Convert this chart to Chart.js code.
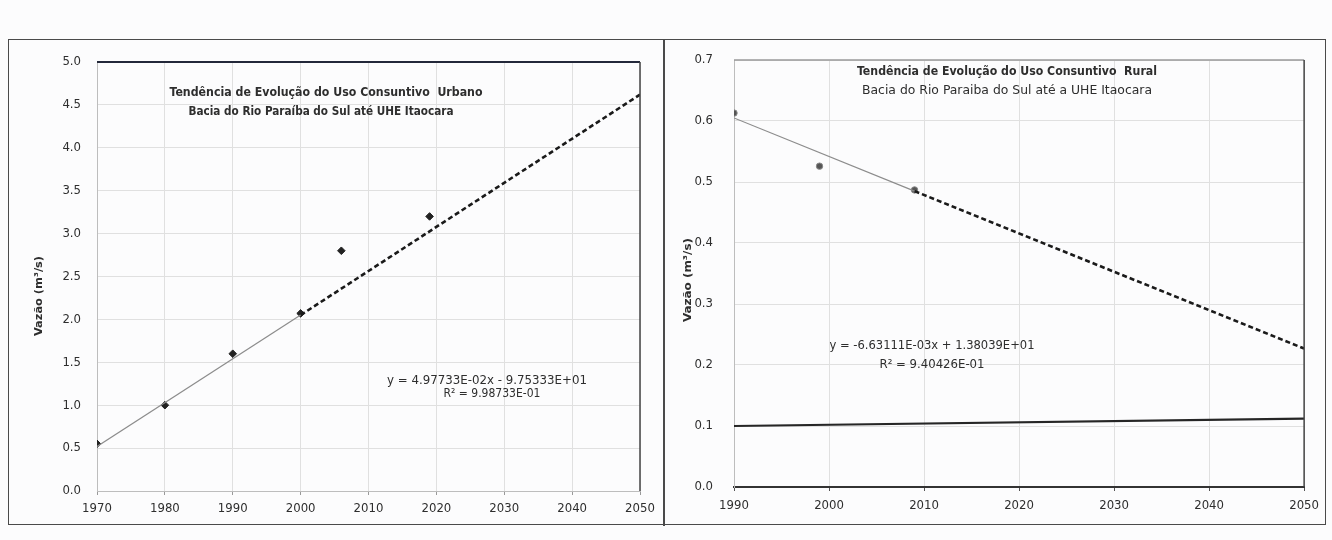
<!DOCTYPE html>
<html>
<head>
<meta charset="utf-8">
<script src="https://cdn.jsdelivr.net/npm/chart.js@4/dist/chart.umd.min.js"></script>
<style>
  html, body { margin: 0; padding: 0; background: #fcfcfd; }
  #page { position: relative; width: 1332px; height: 540px; overflow: hidden; background: #fcfcfd; }
  canvas { position: absolute; }
  #cUrb { left: 8px; top: 40px; }
  #cRur { left: 664px; top: 40px; }
  .frame { position: absolute; left: 8px; top: 39px; width: 1316px; height: 484px; border: 1.5px solid #4a4a4a; pointer-events: none; }
  .divider { position: absolute; left: 663px; top: 39px; width: 1.5px; height: 487px; background: #4a4a4a; }
</style>
</head>
<body>
<div id="page">
  <canvas id="cUrb" width="656" height="484"></canvas>
  <canvas id="cRur" width="662" height="484"></canvas>
  <div class="frame"></div>
  <div class="divider"></div>
</div>
<script>
// ---- Urban consumptive use (left panel) ----
const urbanYears = [1970, 1980, 1990, 2000, 2006, 2019];
const urbanFlow  = [0.55, 1.00, 1.60, 2.07, 2.80, 3.20];
const urbanFitYears  = [1970, 2000];
const urbanFitFlow   = [0.52, 2.05];
const urbanProjYears = [2000, 2050];
const urbanProjFlow  = [2.05, 4.62];
const urbanXTicks = [1970, 1980, 1990, 2000, 2010, 2020, 2030, 2040, 2050];
const urbanYTicks = [0.0, 0.5, 1.0, 1.5, 2.0, 2.5, 3.0, 3.5, 4.0, 4.5, 5.0];
const urbanTitle = ['Tendência de Evolução do Uso Consuntivo  Urbano', 'Bacia do Rio Paraíba do Sul até UHE Itaocara'];
const urbanEquation = ['y = 4.97733E-02x - 9.75333E+01', 'R² = 9.98733E-01'];

// ---- Rural consumptive use (right panel) ----
const ruralYears = [1990, 1999, 2009];
const ruralFlow  = [0.613, 0.526, 0.487];
const ruralFitYears  = [1990, 2009];
const ruralFitFlow   = [0.605, 0.485];
const ruralProjYears = [2009, 2050];
const ruralProjFlow  = [0.485, 0.227];
const ruralLimitYears = [1990, 2050];
const ruralLimitFlow  = [0.100, 0.112];
const ruralXTicks = [1990, 2000, 2010, 2020, 2030, 2040, 2050];
const ruralYTicks = [0.0, 0.1, 0.2, 0.3, 0.4, 0.5, 0.6, 0.7];
const ruralTitle = ['Tendência de Evolução do Uso Consuntivo  Rural', 'Bacia do Rio Paraiba do Sul até a UHE Itaocara'];
const ruralEquation = ['y = -6.63111E-03x + 1.38039E+01', 'R² = 9.40426E-01'];

const yAxisTitle = 'Vazão (m³/s)';

const FAMILY = "'Liberation Sans Narrow', 'DejaVu Sans Condensed', 'Liberation Sans', sans-serif";
const INK = '#2e2e2e';

const pts = (xs, ys) => xs.map((x, i) => ({ x: x, y: ys[i] }));

// Draw a line of text centred on (cx, cy), stretched horizontally to a given width.
function fitText(ctx, text, cx, cy, width, font, color, angle) {
  ctx.save();
  ctx.font = font;
  ctx.fillStyle = color || INK;
  ctx.textAlign = 'center';
  ctx.textBaseline = 'middle';
  const w = ctx.measureText(text).width;
  ctx.translate(cx, cy);
  if (angle) ctx.rotate(angle);
  ctx.scale(width / w, 1);
  ctx.fillText(text, 0, 0);
  ctx.restore();
}

function annotations(cfg) {
  return {
    id: 'annotations',
    afterDraw(chart) {
      const ctx = chart.ctx;
      const a = chart.chartArea;
      // plot frame lines
      ctx.save();
      ctx.lineCap = 'butt';
      ctx.strokeStyle = cfg.topColor; ctx.lineWidth = cfg.topWidth;
      ctx.beginPath(); ctx.moveTo(a.left, a.top); ctx.lineTo(a.right, a.top); ctx.stroke();
      ctx.strokeStyle = '#444'; ctx.lineWidth = 1.5;
      ctx.beginPath(); ctx.moveTo(a.right, a.top); ctx.lineTo(a.right, a.bottom); ctx.stroke();
      ctx.restore();
      // titles, equation and axis title
      cfg.texts.forEach(t => fitText(ctx, t.s, t.x, t.y, t.w, t.font, t.color, t.angle));
    }
  };
}

function axisOpts(min, max, ticks, yAxis, extra) {
  return Object.assign({
    type: 'linear',
    min: min, max: max,
    afterBuildTicks: s => { s.ticks = ticks.map(v => ({ value: v })); },
    grid: { color: '#e0e0e0', lineWidth: 1, drawTicks: !yAxis, tickLength: 4, tickColor: '#999' },
    border: { display: true, color: '#bdbdbd', width: 1 },
    ticks: {
      color: INK,
      font: { family: FAMILY, size: 13 },
      autoSkip: false,
      maxRotation: 0,
      callback: v => yAxis ? Number(v).toFixed(1) : String(v)
    }
  }, extra || {});
}

// fixed y-axis width; the label gap must not push the plot area down
const fixY = w => s => { s.width = w; s.paddingTop = 0; s.paddingBottom = 0; };

function makeChart(id, o) {
  return new Chart(document.getElementById(id), {
    type: 'scatter',
    data: {
      datasets: o.datasets
    },
    options: {
      responsive: false,
      animation: false,
      devicePixelRatio: 1,
      layout: { padding: o.padding },
      plugins: { legend: { display: false }, tooltip: { enabled: false }, title: { display: false } },
      scales: { x: o.x, y: o.y }
    },
    plugins: [annotations(o.ann)]
  });
}

const boldT = "bold 12px " + FAMILY;
const regT = "12px " + FAMILY;

// Left chart: canvas at page (8,40); plot area page x 97..640, y 62..491
makeChart('cUrb', {
  padding: { left: 0, top: 22, right: 24, bottom: 0 },
  datasets: [
    { type: 'line', data: pts(urbanFitYears, urbanFitFlow), borderColor: '#8c8c8c', borderWidth: 1.2, pointRadius: 0, fill: false },
    { type: 'line', data: pts(urbanProjYears, urbanProjFlow), borderColor: '#1a1a1a', borderWidth: 2.6, borderDash: [5, 3], pointRadius: 0, fill: false },
    { data: pts(urbanYears, urbanFlow), pointStyle: 'rectRot', pointRadius: 3.8, backgroundColor: '#222', borderColor: '#222', borderWidth: 1 }
  ],
  x: axisOpts(1970, 2050, urbanXTicks, false, {
    afterFit: s => { s.height = 33; },
    ticks: { color: INK, font: { family: FAMILY, size: 13 }, autoSkip: false, maxRotation: 0, padding: 6, callback: v => String(v) }
  }),
  y: axisOpts(0, 5, urbanYTicks, true, {
    afterFit: fixY(89),
    ticks: { color: INK, font: { family: FAMILY, size: 13 }, padding: 16, callback: v => Number(v).toFixed(1) }
  }),
  ann: {
    topColor: '#23283a', topWidth: 2,
    texts: [
      { s: urbanTitle[0], x: 318, y: 53, w: 313, font: boldT },
      { s: urbanTitle[1], x: 313, y: 72, w: 265, font: boldT },
      { s: urbanEquation[0], x: 479, y: 341, w: 200, font: regT },
      { s: urbanEquation[1], x: 484, y: 354, w: 97, font: regT },
      { s: yAxisTitle, x: 31, y: 256, w: 80, font: "bold 11px " + FAMILY, angle: -Math.PI / 2 }
    ]
  }
});

// Right chart: canvas at page (664,40); plot area page x 734..1308, y 60..487
makeChart('cRur', {
  padding: { left: 0, top: 20, right: 18, bottom: 0 },
  datasets: [
    { type: 'line', data: pts(ruralLimitYears, ruralLimitFlow), borderColor: '#262626', borderWidth: 2.2, pointRadius: 0, fill: false },
    { type: 'line', data: pts(ruralFitYears, ruralFitFlow), borderColor: '#8c8c8c', borderWidth: 1.2, pointRadius: 0, fill: false },
    { type: 'line', data: pts(ruralProjYears, ruralProjFlow), borderColor: '#1a1a1a', borderWidth: 2.6, borderDash: [5, 3], pointRadius: 0, fill: false },
    { data: pts(ruralYears, ruralFlow), pointStyle: 'circle', pointRadius: 3.2, backgroundColor: '#555', borderColor: '#888', borderWidth: 1 }
  ],
  x: axisOpts(1990, 2050, ruralXTicks, false, {
    afterFit: s => { s.height = 37; },
    border: { display: true, color: '#333', width: 2 },
    grid: { color: '#e0e0e0', lineWidth: 1, drawTicks: true, tickLength: 4, tickColor: '#555' },
    ticks: { color: INK, font: { family: FAMILY, size: 13 }, autoSkip: false, maxRotation: 0, padding: 7, callback: v => String(v) }
  }),
  y: axisOpts(0, 0.7, ruralYTicks, true, {
    afterFit: fixY(70),
    ticks: { color: INK, font: { family: FAMILY, size: 13 }, padding: 21, callback: v => Number(v).toFixed(1) }
  }),
  ann: {
    topColor: '#9a9a9a', topWidth: 1.5,
    texts: [
      { s: ruralTitle[0], x: 343, y: 32, w: 300, font: boldT },
      { s: ruralTitle[1], x: 343, y: 51, w: 290, font: regT },
      { s: ruralEquation[0], x: 268, y: 306, w: 205, font: regT },
      { s: ruralEquation[1], x: 268, y: 325, w: 105, font: regT },
      { s: yAxisTitle, x: 24, y: 240, w: 84, font: "bold 11px " + FAMILY, angle: -Math.PI / 2 }
    ]
  }
});
</script>
</body>
</html>
